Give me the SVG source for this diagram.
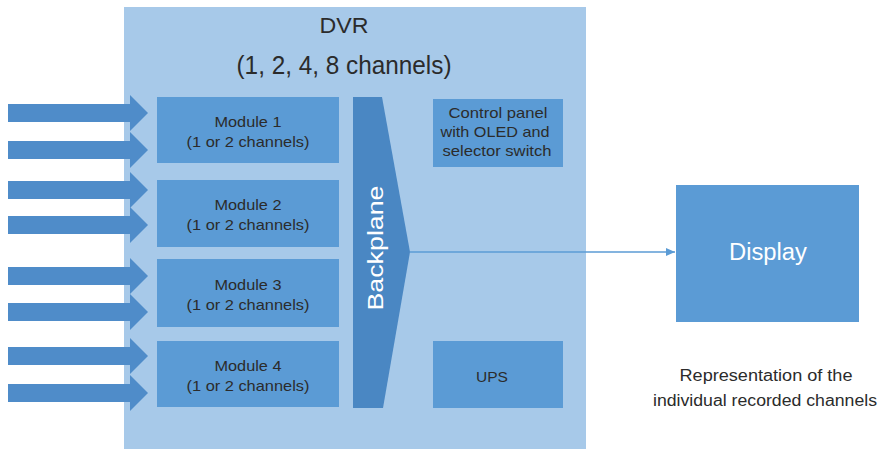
<svg xmlns="http://www.w3.org/2000/svg" width="895" height="449" viewBox="0 0 895 449">
<defs>
<style>
.box{fill:#5b9bd5}
.t{font-family:"Liberation Sans",Arial,sans-serif;fill:#2b2b2b;text-anchor:middle}
.w{font-family:"Liberation Sans",Arial,sans-serif;fill:#ffffff;text-anchor:middle}
.in{fill:#4f8cc9}
</style>
<marker id="ah" markerWidth="10" markerHeight="10" refX="9" refY="5" orient="auto" markerUnits="userSpaceOnUse">
<path d="M0,1 L9,5 L0,9 z" fill="#5b9bd5"/>
</marker>
<path id="arr" d="M0,-9 L122,-9 L122,-18 L140,0 L122,18 L122,9 L0,9 z"/>
</defs>
<rect width="895" height="449" fill="#ffffff"/>
<g id="dvr">
<rect x="124" y="7" width="462" height="442" fill="#a7c9e9"/>
<text class="t" x="344" y="33" font-size="22" textLength="49" lengthAdjust="spacingAndGlyphs">DVR</text>
<text class="t" x="344" y="74" font-size="25" textLength="215" lengthAdjust="spacingAndGlyphs">(1, 2, 4, 8 channels)</text>
</g>
<g id="inputs" class="in">
<use href="#arr" x="8" y="113"/>
<use href="#arr" x="8" y="150"/>
<use href="#arr" x="8" y="190"/>
<use href="#arr" x="8" y="225"/>
<use href="#arr" x="8" y="276"/>
<use href="#arr" x="8" y="312"/>
<use href="#arr" x="8" y="356"/>
<use href="#arr" x="8" y="393"/>
</g>
<g id="module1">
<rect class="box" x="157" y="97" width="182" height="66"/>
<text class="t" x="248" y="127" font-size="15" textLength="67" lengthAdjust="spacingAndGlyphs">Module 1</text>
<text class="t" x="248" y="147" font-size="15" textLength="123" lengthAdjust="spacingAndGlyphs">(1 or 2 channels)</text>
</g>
<g id="module2">
<rect class="box" x="157" y="180" width="182" height="67"/>
<text class="t" x="248" y="210" font-size="15" textLength="67" lengthAdjust="spacingAndGlyphs">Module 2</text>
<text class="t" x="248" y="230" font-size="15" textLength="123" lengthAdjust="spacingAndGlyphs">(1 or 2 channels)</text>
</g>
<g id="module3">
<rect class="box" x="157" y="259" width="182" height="68"/>
<text class="t" x="248" y="290" font-size="15" textLength="67" lengthAdjust="spacingAndGlyphs">Module 3</text>
<text class="t" x="248" y="310" font-size="15" textLength="123" lengthAdjust="spacingAndGlyphs">(1 or 2 channels)</text>
</g>
<g id="module4">
<rect class="box" x="157" y="341" width="182" height="66"/>
<text class="t" x="248" y="371" font-size="15" textLength="67" lengthAdjust="spacingAndGlyphs">Module 4</text>
<text class="t" x="248" y="391" font-size="15" textLength="123" lengthAdjust="spacingAndGlyphs">(1 or 2 channels)</text>
</g>
<g id="backplane">
<path d="M353,97 L382,97 L410,252 L383,408 L353,408 z" fill="#4a87c3"/>
<text class="w" x="0" y="0" font-size="22" textLength="125" lengthAdjust="spacingAndGlyphs" transform="translate(383,248) rotate(-90)">Backplane</text>
</g>
<g id="control">
<rect class="box" x="433" y="99" width="130" height="68"/>
<text class="t" x="498" y="118" font-size="14.5" textLength="99" lengthAdjust="spacingAndGlyphs">Control panel</text>
<text class="t" x="495" y="137" font-size="14.5" textLength="109" lengthAdjust="spacingAndGlyphs">with OLED and</text>
<text class="t" x="497" y="156" font-size="14.5" textLength="109" lengthAdjust="spacingAndGlyphs">selector switch</text>
</g>
<g id="ups">
<rect class="box" x="433" y="341" width="130" height="67"/>
<text class="t" x="492" y="382" font-size="15" textLength="32" lengthAdjust="spacingAndGlyphs">UPS</text>
</g>
<g id="connectors">
<line x1="410" y1="252" x2="675" y2="252" stroke="#5b9bd5" stroke-width="1.5" marker-end="url(#ah)"/>
</g>
<g id="display">
<rect class="box" x="676" y="185" width="183" height="137"/>
<text class="w" x="768" y="260" font-size="23" textLength="78" lengthAdjust="spacingAndGlyphs">Display</text>
</g>
<g id="caption">
<text class="t" x="766" y="381" font-size="16" textLength="173" lengthAdjust="spacingAndGlyphs">Representation of the</text>
<text class="t" x="765" y="406" font-size="16" textLength="224" lengthAdjust="spacingAndGlyphs">individual recorded channels</text>
</g>
</svg>
